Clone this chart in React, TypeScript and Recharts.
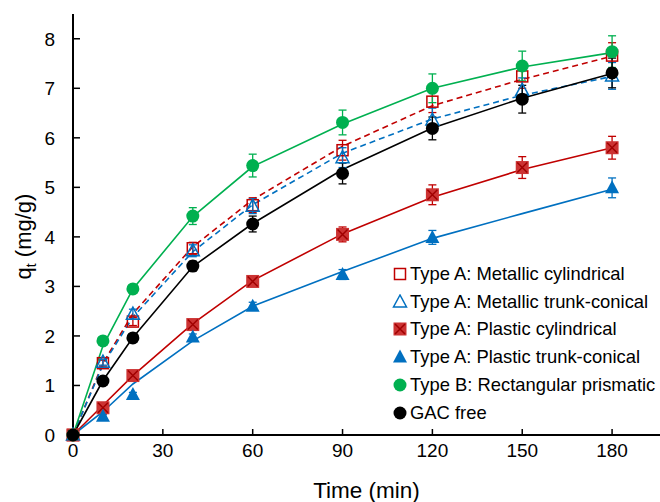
import React from "react";
import { ComposedChart, Line, XAxis, YAxis, ErrorBar } from "recharts";

// sampling times (min)
const time = [0, 10, 20, 40, 60, 90, 120, 150, 180];

// measured uptake q_t (mg/g) with standard deviations
const metCyl = [0, 1.45, 2.29, 3.77, 4.64, 5.75, 6.73, 7.24, 7.66];
const metCylErr = [0, 0.06, 0.08, 0.12, 0.15, 0.2, 0.22, 0.24, 0.26];
const metTrunk = [0, 1.47, 2.44, 3.72, 4.62, 5.6, 6.36, 6.96, 7.25];
const metTrunkErr = [0, 0.06, 0.1, 0.12, 0.15, 0.2, 0.24, 0.25, 0.27];
const plaCyl = [0, 0.55, 1.2, 2.23, 3.1, 4.05, 4.85, 5.4, 5.8];
const plaCylErr = [0, 0.04, 0.05, 0.08, 0.1, 0.15, 0.2, 0.22, 0.23];
const plaTrunk = [0, 0.38, 0.82, 1.98, 2.6, 3.24, 3.99, null, 4.99];
const plaTrunkErr = [0, 0.03, 0.04, 0.06, 0.08, 0.1, 0.14, null, 0.2];
const typeB = [0, 1.9, 2.95, 4.42, 5.44, 6.31, 7.0, 7.45, 7.74];
const typeBErr = [0, 0.05, 0.06, 0.17, 0.23, 0.25, 0.29, 0.3, 0.32];
const gacFree = [0, 1.09, 1.96, 3.41, 4.26, 5.28, 6.19, 6.78, 7.31];
const gacFreeErr = [0, 0.05, 0.06, 0.1, 0.16, 0.21, 0.23, 0.28, 0.3];

// kinetic model curves
const metCylFit = [0, 1.45, 2.45, 3.8, 4.75, 5.83, 6.65, 7.18, 7.65];
const metTrunkFit = [0, 1.42, 2.38, 3.7, 4.65, 5.69, 6.38, 6.86, 7.24];
const plaCylFit = [0, 0.6, 1.2, 2.25, 3.12, 4.06, 4.8, 5.36, 5.8];
const plaTrunkFit = [0, 0.47, 1.03, 1.9, 2.6, 3.3, 3.97, 4.47, 4.96];
const typeBFit = [0, 1.8, 2.95, 4.41, 5.42, 6.28, 7.0, 7.43, 7.72];
const gacFreeFit = [0, 1.1, 1.97, 3.4, 4.27, 5.36, 6.2, 6.8, 7.3];

const xTicks = [0, 30, 60, 90, 120, 150, 180];
const yTicks = [0, 1, 2, 3, 4, 5, 6, 7, 8];

const RED = "#C00000";
const BLUE = "#0070C0";
const GREEN = "#00B050";
const BLACK = "#000000";
const FONT = "'Liberation Sans', Arial, sans-serif";

const data = time.map((t, i) => ({
  t,
  metCyl: metCyl[i],
  metCylErr: metCylErr[i],
  metTrunk: metTrunk[i],
  metTrunkErr: metTrunkErr[i],
  plaCyl: plaCyl[i],
  plaCylErr: plaCylErr[i],
  plaTrunk: plaTrunk[i],
  plaTrunkErr: plaTrunkErr[i],
  typeB: typeB[i],
  typeBErr: typeBErr[i],
  gacFree: gacFree[i],
  gacFreeErr: gacFreeErr[i],
  metCylFit: metCylFit[i],
  metTrunkFit: metTrunkFit[i],
  plaCylFit: plaCylFit[i],
  plaTrunkFit: plaTrunkFit[i],
  typeBFit: typeBFit[i],
  gacFreeFit: gacFreeFit[i],
}));

type Kind = "sqOpen" | "triOpen" | "sqX" | "tri" | "dotG" | "dotK";

function Glyph({ kind, cx, cy }: { kind: Kind; cx: number; cy: number }) {
  switch (kind) {
    case "sqOpen":
      return <rect x={cx - 5.5} y={cy - 5.5} width={11} height={11} fill="none" stroke={RED} strokeWidth={1.5} />;
    case "triOpen":
      return (
        <polygon
          points={`${cx},${cy - 7} ${cx - 6.5},${cy + 5} ${cx + 6.5},${cy + 5}`}
          fill="none"
          stroke={BLUE}
          strokeWidth={1.5}
        />
      );
    case "sqX":
      return (
        <g>
          <rect x={cx - 6.5} y={cy - 6.5} width={13} height={13} fill="#CC3333" />
          <path d={`M${cx - 5} ${cy - 5}L${cx + 5} ${cy + 5}M${cx + 5} ${cy - 5}L${cx - 5} ${cy + 5}`} stroke="#A00000" strokeWidth={1.5} />
        </g>
      );
    case "tri":
      return <polygon points={`${cx},${cy - 7.5} ${cx - 7},${cy + 5.5} ${cx + 7},${cy + 5.5}`} fill={BLUE} />;
    case "dotG":
      return <circle cx={cx} cy={cy} r={6.5} fill={GREEN} />;
    default:
      return <circle cx={cx} cy={cy} r={6.5} fill={BLACK} />;
  }
}

const dotFor = (kind: Kind) => (p: any) => {
  if (p.cx == null || p.cy == null || p.value == null) return <g key={p.key} />;
  return (
    <g key={p.key}>
      <Glyph kind={kind} cx={p.cx} cy={p.cy} />
    </g>
  );
};

const XTick = (p: any) => (
  <g>
    <line x1={p.x} x2={p.x} y1={p.y - 8} y2={p.y - 14} stroke="#000" strokeWidth={1.5} />
    <text x={p.x} y={p.y} dy="0.75em" textAnchor="middle" fontSize={19} fontFamily={FONT} fill="#000">
      {p.payload.value}
    </text>
  </g>
);

const YTick = (p: any) => (
  <g>
    <line x1={p.x + 18} x2={p.x + 25} y1={p.y} y2={p.y} stroke="#000" strokeWidth={1.5} />
    <text x={p.x} y={p.y} dy="0.36em" textAnchor="end" fontSize={19} fontFamily={FONT} fill="#000">
      {p.payload.value}
    </text>
  </g>
);

const YTitle = (p: any) => {
  const vb = p.viewBox;
  const x = vb.x + 31;
  const y = vb.y + vb.height / 2 + 12;
  return (
    <text x={x} y={y} transform={`rotate(-90 ${x} ${y})`} textAnchor="middle" fontSize={22} fontFamily={FONT} fill="#000">
      q<tspan fontSize={14} dy={5}>t</tspan>
      <tspan dy={-5}> (mg/g)</tspan>
    </text>
  );
};

const XTitle = (p: any) => {
  const vb = p.viewBox;
  return (
    <text x={vb.x + vb.width / 2} y={vb.y + 63} textAnchor="middle" fontSize={22.5} fontFamily={FONT} fill="#000">
      Time (min)
    </text>
  );
};

const legendItems: { kind: Kind; label: string }[] = [
  { kind: "sqOpen", label: "Type A: Metallic cylindrical" },
  { kind: "triOpen", label: "Type A: Metallic trunk-conical" },
  { kind: "sqX", label: "Type A: Plastic cylindrical" },
  { kind: "tri", label: "Type A: Plastic trunk-conical" },
  { kind: "dotG", label: "Type B: Rectangular prismatic" },
  { kind: "dotK", label: "GAC free" },
];

function KineticsLegend() {
  return (
    <div style={{ position: "absolute", left: 392, top: 260, fontFamily: FONT, fontSize: 18.4, color: "#000" }}>
      {legendItems.map((it) => (
        <div key={it.label} style={{ display: "flex", alignItems: "center", height: 27.8, whiteSpace: "nowrap" }}>
          <svg width={16} height={16} style={{ marginRight: 2 }}>
            <Glyph kind={it.kind} cx={8} cy={8} />
          </svg>
          {it.label}
        </div>
      ))}
    </div>
  );
}

const series: { key: string; color: string; kind: Kind; dashed: boolean }[] = [
  { key: "metCyl", color: RED, kind: "sqOpen", dashed: true },
  { key: "metTrunk", color: BLUE, kind: "triOpen", dashed: true },
  { key: "plaCyl", color: RED, kind: "sqX", dashed: false },
  { key: "plaTrunk", color: BLUE, kind: "tri", dashed: false },
  { key: "typeB", color: GREEN, kind: "dotG", dashed: false },
  { key: "gacFree", color: BLACK, kind: "dotK", dashed: false },
];

export default function App() {
  return (
    <div style={{ position: "absolute", left: 0, top: 0, width: 660, height: 502, background: "#fff", overflow: "hidden" }}>
      <ComposedChart width={660} height={502} data={data} margin={{ top: 14, right: 0, bottom: 0, left: 0 }}>
        <XAxis
          dataKey="t"
          type="number"
          domain={[0, 196]}
          ticks={xTicks}
          tickSize={0}
          tickMargin={8}
          tick={<XTick />}
          tickLine={false}
          axisLine={{ stroke: "#000", strokeWidth: 2 }}
          height={67}
          label={<XTitle />}
        />
        <XAxis xAxisId="top" dataKey="t" type="number" domain={[0, 196]} orientation="top" height={0} tick={false} tickLine={false} axisLine={{ stroke: "#000", strokeWidth: 2 }} />
        <YAxis
          type="number"
          domain={[0, 8.5]}
          ticks={yTicks}
          tickSize={0}
          tickMargin={18}
          tick={<YTick />}
          tickLine={false}
          axisLine={{ stroke: "#000", strokeWidth: 2 }}
          width={73}
          label={<YTitle />}
        />
        {series.map((s) => (
          <Line
            key={s.key + "Fit"}
            dataKey={s.key + "Fit"}
            stroke={s.color}
            strokeWidth={1.6}
            strokeDasharray={s.dashed ? "6 4" : undefined}
            dot={false}
            activeDot={false}
            isAnimationActive={false}
          />
        ))}
        {series.map((s) => (
          <Line
            key={s.key}
            dataKey={s.key}
            stroke="none"
            dot={dotFor(s.kind)}
            activeDot={false}
            connectNulls={false}
            isAnimationActive={false}
          >
            <ErrorBar dataKey={s.key + "Err"} direction="y" width={4} stroke={s.color} strokeWidth={1.3} />
          </Line>
        ))}
      </ComposedChart>
      <KineticsLegend />
    </div>
  );
}
